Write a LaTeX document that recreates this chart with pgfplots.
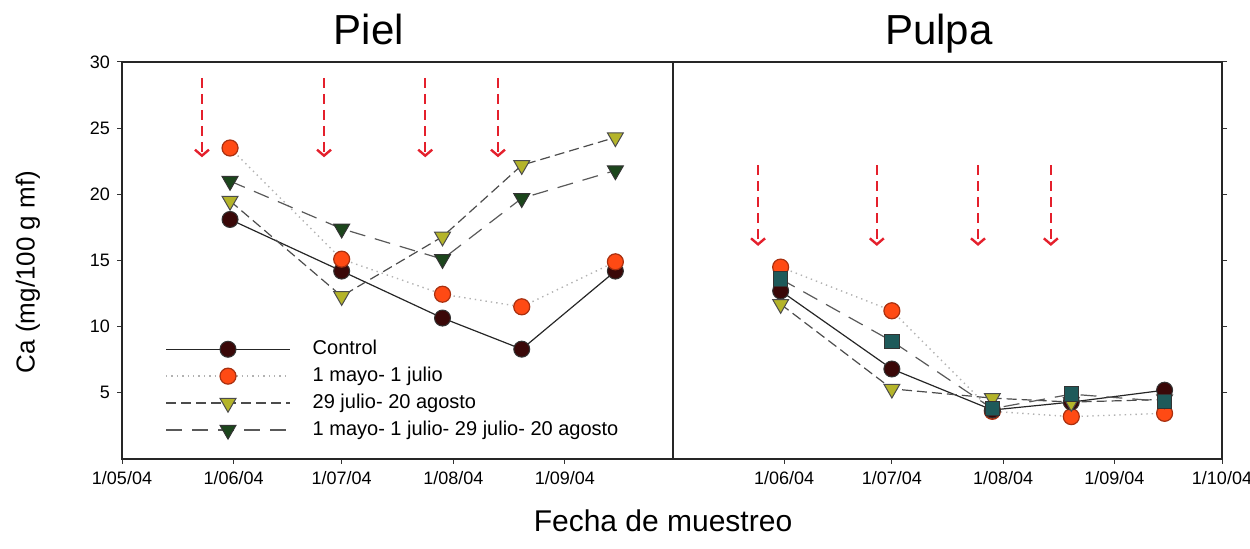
\documentclass[border=0pt]{standalone}
\usepackage{pgfplots}
\pgfplotsset{compat=1.18}
\usepackage{fontspec}
\setmainfont{Liberation Sans}
\usetikzlibrary{arrows.meta}
\definecolor{ctrl}{HTML}{3A0808}
\definecolor{orng}{HTML}{FF4A14}
\definecolor{orngd}{HTML}{A83010}
\definecolor{ylw}{HTML}{B4B42A}
\definecolor{dgrn}{HTML}{1C461C}
\definecolor{teal2}{HTML}{1E5A5A}
\definecolor{arr}{HTML}{E4202C}
\tikzset{arrS/.style={arr, line width=1.1pt, dash pattern=on 5pt off 3pt, -{Straight Barb[length=3pt,width=7pt,line width=1.2pt]}}}
\begin{document}
\begin{tikzpicture}
\useasboundingbox (0,0) rectangle (625pt,274.5pt);
\pgfplotsset{
  panel/.style={scale only axis, height=198.5pt,
    xmin=0, xmax=153, ymin=0, ymax=30,
    ytick={5,10,...,30},
    tick align=outside, major tick length=2.5pt, minor tick length=1.5pt,
    minor x tick num=3,
    tick label style={font=\fontsize{9}{10}\selectfont},
    /pgf/number format/assume math mode=true,
    axis line style={line width=0.7pt, black!85},
    every tick/.style={black!80, line width=0.5pt},
    clip=false},
  ctrlS/.style={black!85, line width=0.6pt, mark=*, mark size=4pt, mark options={solid, fill=ctrl, draw=black!80, line width=0.5pt}},
  orS/.style={black!30, line width=0.7pt, dotted, mark=*, mark size=4pt, mark options={solid, fill=orng, draw=orngd, line width=0.6pt}},
  ylS/.style={black!70, line width=0.6pt, dash pattern=on 5pt off 2.5pt, mark=triangle*, mark size=4.6pt, mark options={solid, rotate=180, fill=ylw, draw=black!70, line width=0.5pt}},
  cbS/.style={black!65, line width=0.6pt, dash pattern=on 8pt off 5pt, mark=triangle*, mark size=4.6pt, mark options={solid, rotate=180, fill=dgrn, draw=black!80, line width=0.5pt}},
  sqS/.style={black!65, line width=0.6pt, dash pattern=on 8pt off 5pt, mark=square*, mark size=3.6pt, mark options={solid, fill=teal2, draw=black!80, line width=0.5pt}},
}
% ---------- Piel ----------
\begin{axis}[panel, at={(61pt,45pt)}, anchor=south west, width=275.5pt,
  xtick={0,31,61,92,123},
  xticklabels={1/05/04,1/06/04,1/07/04,1/08/04,1/09/04},
  xtick pos=left, ytick pos=left,
  legend style={draw=none, fill=none, at={(rel axis cs:0.067,0.030)}, anchor=south west,
    font=\fontsize{10}{12}\selectfont, row sep=0.7pt,
    /tikz/every odd column/.append style={column sep=9pt}},
  legend cell align=left,
  legend image code/.code={\draw[mark repeat=2,mark phase=2,#1] plot coordinates {(0pt,0pt)(31pt,0pt)(62pt,0pt)};},
]
\addplot[ctrlS] coordinates {(30,18.1) (61,14.2) (89,10.65) (111,8.3) (137,14.2)};
\addlegendentry{Control}
\addplot[orS] coordinates {(30,23.5) (61,15.1) (89,12.45) (111,11.5) (137,14.9)};
\addlegendentry{1 mayo- 1 julio}
\addplot[ylS] coordinates {(30,19.5) (61,12.3) (89,16.8) (111,22.2) (137,24.3)};
\addlegendentry{29 julio- 20 agosto}
\addplot[cbS] coordinates {(30,21.0) (61,17.4) (89,15.1) (111,19.7) (137,21.8)};
\addlegendentry{1 mayo- 1 julio- 29 julio- 20 agosto}
\draw[arrS] (axis cs:22.2,28.8) -- (axis cs:22.2,22.8);
\draw[arrS] (axis cs:56.1,28.8) -- (axis cs:56.1,22.8);
\draw[arrS] (axis cs:84.2,28.8) -- (axis cs:84.2,22.8);
\draw[arrS] (axis cs:104.4,28.8) -- (axis cs:104.4,22.8);
\end{axis}
% ---------- Pulpa ----------
\begin{axis}[panel, at={(336.5pt,45pt)}, anchor=south west, width=274.5pt,
  xtick={31,61,92,123,153},
  xticklabels={1/06/04,1/07/04,1/08/04,1/09/04,1/10/04},
  xtick pos=left, ytick pos=right, yticklabels={},
]
\addplot[orS] coordinates {(30,14.5) (61,11.2) (89,3.6) (111,3.2) (137,3.45)};
\addplot[ctrlS] coordinates {(30,12.7) (61,6.8) (89,3.7) (111,4.3) (137,5.2)};
\addplot[ylS] coordinates {(30,11.7) (61,5.3) (89,4.6) (111,4.3) (137,4.5)};
\addplot[sqS] coordinates {(30,13.6) (61,8.9) (89,3.8) (111,4.9) (137,4.35)};
\draw[arrS] (axis cs:23.7,22.2) -- (axis cs:23.7,16.1);
\draw[arrS] (axis cs:56.8,22.2) -- (axis cs:56.8,16.1);
\draw[arrS] (axis cs:85,22.2) -- (axis cs:85,16.1);
\draw[arrS] (axis cs:105.3,22.2) -- (axis cs:105.3,16.1);
\end{axis}
% ---------- titles and labels ----------
\node[font=\fontsize{21}{24}\selectfont, anchor=base] at (184.5pt,252pt) {Piel};
\node[font=\fontsize{21}{24}\selectfont, anchor=base] at (469.5pt,252pt) {Pulpa};
\node[font=\fontsize{15}{18}\selectfont] at (331.5pt,14pt) {Fecha de muestreo};
\node[font=\fontsize{13}{16}\selectfont, rotate=90] at (14pt,138.5pt) {Ca (mg/100 g mf)};
\end{tikzpicture}
\end{document}
